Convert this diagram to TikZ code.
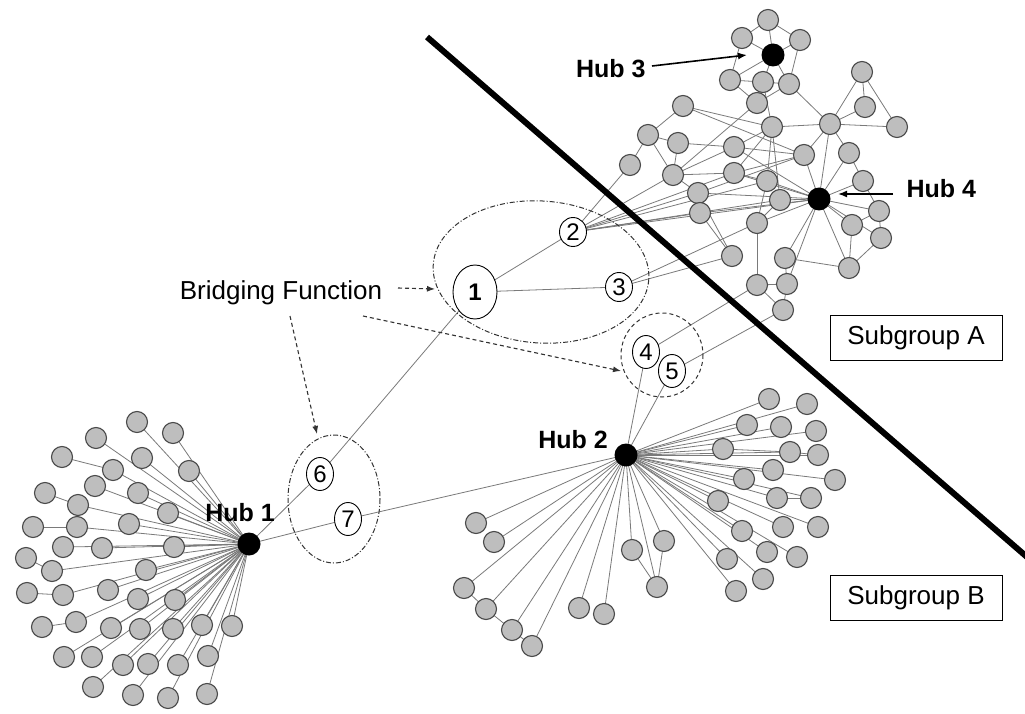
\documentclass[tikz,border=0pt]{standalone}
\usepackage{fontspec}
\setmainfont{Liberation Sans}
\usetikzlibrary{arrows.meta,shapes.geometric}
\pgfdeclarelayer{paper}
\pgfdeclarelayer{edges}
\pgfsetlayers{paper,edges,main}
\definecolor{nodegray}{HTML}{BEBEBE}
\definecolor{rimgray}{HTML}{4A4A4A}
\definecolor{linkgray}{HTML}{7A7A7A}
\definecolor{hintgray}{HTML}{333333}
\begin{document}
\begin{tikzpicture}[x=1pt,y=-1pt,
  gn/.style={circle,draw=rimgray,fill=nodegray,line width=1.1pt,minimum size=21pt,inner sep=0pt},
  hub/.style={circle,fill=black,minimum size=23pt,inner sep=0pt},
  num/.style={ellipse,draw=black,fill=white,line width=0.9pt,inner sep=0pt,
    minimum width=27pt,minimum height=33pt,font=\fontsize{24}{26}\selectfont},
  link/.style={draw=linkgray,line width=0.8pt},
  hubtext/.style={font=\fontsize{25}{28}\selectfont\bfseries},
  pointer/.style={draw=black,line width=1.6pt,-{Latex[length=9pt,width=7pt]}},
  hint/.style={draw=hintgray,line width=1.1pt,dash pattern=on 4pt off 3pt,-{Latex[length=8pt,width=6pt]}},
  group/.style={draw=hintgray,line width=1pt},
  subbox/.style={draw=black,line width=0.9pt,fill=white,minimum width=172pt,minimum height=45pt,
    inner sep=0pt,font=\fontsize{26}{28}\selectfont}
]
\begin{pgfonlayer}{paper}
  \fill[white] (0,0) rectangle (1025,714);
\end{pgfonlayer}
\useasboundingbox (0,0) rectangle (1025,714);

% ---------- hubs ----------
\node[hub] (h1) at (249,544) {};
\node[hub] (h2) at (626,455) {};
\node[hub] (h3) at (773,55) {};
\node[hub] (h4) at (819,199) {};

% ---------- leaves around hub 1 ----------
\foreach \n/\x/\y in {p1/137/422,p2/173/433,p3/96/438,p4/62/457,p5/142/458,p6/189/471,
  p7/113/470,p8/95/486,p9/138/493,p10/45/493,p11/78/505,p12/168/513,p13/129/524,
  p14/33/527,p15/77/527,p16/63/547,p17/102/548,p18/174/547,p19/26/558,p20/52/571,
  p21/146/570,p22/108/590,p23/27/593,p24/63/595,p25/138/599,p26/175/600,p27/42/627,
  p28/76/622,p29/111/628,p30/140/629,p31/173/629,p32/202/625,p33/232/626,p34/64/657,
  p35/92/657,p36/123/665,p37/148/664,p38/178/665,p39/208/656,p40/93/687,p41/133/695,
  p42/168/698,p43/207/694}
  \node[gn] (\n) at (\x,\y) {};

% ---------- leaves around hub 2 ----------
\foreach \n/\x/\y in {q1/769/399,q2/807/404,q3/747/425,q4/781/427,q5/816/431,q6/723/449,
  q7/790/452,q8/818/455,q9/773/470,q10/744/479,q11/835/480,q12/718/501,q13/777/498,
  q14/811/498,q15/742/531,q16/783/527,q17/818/527,q18/767/552,q19/797/557,q20/727/559,
  q21/763/579,q22/736/591,q23/476/523,q24/494/542,q25/632/550,q26/664/541,q27/657/587,
  q28/464/588,q29/486/609,q30/512/630,q31/532/646,q32/579/608,q33/604/614}
  \node[gn] (\n) at (\x,\y) {};

% ---------- subgroup A community ----------
\foreach \n/\x/\y in {a1/768/20,a2/742/38,a3/800/40,a4/730/80,a5/763/82,a6/789/84,
  a7/757/103,a8/683/106,a9/648/135,a10/678/143,a11/630/165,a12/673/175,a13/698/193,
  a14/700/213,a15/734/147,a16/734/173,a17/772/127,a18/830/124,a19/862/72,a20/865/107,
  a21/897/127,a22/804/155,a23/849/153,a24/767/181,a25/780/200,a26/863/181,a27/757/223,
  a28/852/225,a29/879/211,a30/881/238,a31/732/256,a32/785/258,a33/849/268,a34/757/285,
  a35/787/284,a36/783/310}
  \node[gn] (\n) at (\x,\y) {};

% ---------- bridging nodes ----------
\node[num,minimum width=44pt,minimum height=54pt,font=\fontsize{24}{26}\selectfont\bfseries] (n1) at (475,292) {1};
\node[num,minimum height=29pt] (n2) at (573,232) {2};
\node[num,minimum height=29pt] (n3) at (619,287) {3};
\node[num] (n4) at (646,352) {4};
\node[num] (n5) at (672,371) {5};
\node[num] (n6) at (320,474) {6};
\node[num] (n7) at (348,519) {7};

% ---------- links ----------
\begin{pgfonlayer}{edges}
  \foreach \n in {p1,p2,p3,p5,p6,p7,p8,p9,p11,p12,p13,p15,p16,p17,p18,p20,p21,p22,
    p24,p25,p26,p28,p29,p30,p31,p32,p33,p34,p35,p36,p37,p38,p39,p40,p41,p42,p43}
    \draw[link] (h1.center) -- (\n.center);
  \foreach \a/\b in {p10/p11,p14/p15,p19/p20,p23/p24,p27/p28,p4/p7}
    \draw[link] (\a.center) -- (\b.center);
  \foreach \n in {q1,q2,q3,q4,q5,q6,q7,q8,q9,q10,q11,q12,q13,q14,q15,q16,q17,q18,q19,
    q20,q21,q22,q23,q24,q25,q26,q27,q28,q29,q30,q31,q32,q33}
    \draw[link] (h2.center) -- (\n.center);
  \foreach \a/\b in {q25/q27,q26/q27,q28/q29,q29/q30,q30/q31,q6/q7,q7/q8,q13/q14}
    \draw[link] (\a.center) -- (\b.center);
  \foreach \a/\b in {h3/a1,h3/a2,h3/a3,h3/a4,h3/a5,h3/a6,a1/a2,a1/a3,a2/a4,a3/a6,
    a4/a5,a5/a6,a4/a7,a5/a7,a6/a7,a7/a12,a6/a18,a5/a17,
    a8/a9,a9/a10,a9/a11,a9/a12,a10/a12,a12/a16,a12/a13,a8/a17,a8/a22,
    a15/a17,a15/a22,a16/a22,a16/a24,a17/a18,a17/a24,a18/a19,a19/a21,a18/a21,a19/a20,a18/a20,
    a18/a22,a18/a23,a18/h4,a22/h4,a23/h4,a24/h4,a25/h4,a26/h4,a23/a26,a15/h4,a16/h4,
    a13/h4,a14/h4,h4/a27,h4/a28,h4/a29,h4/a30,h4/a32,h4/a33,h4/a35,a28/a29,a28/a33,
    a29/a30,a30/a33,a26/a29,a27/a34,a32/a33,a32/a35,a34/a35,a35/a36,a34/a36,a13/a31,
    a14/a31,a25/a27,a24/a27,a17/a25,a13/a22,a12/a15,a16/a17,a10/a15}
    \draw[link] (\a.center) -- (\b.center);
  \foreach \a/\b in {h1/n6,n6/n1,h1/n7,n7/h2,n1/n2,n1/n3,n2/a11,n2/a12,n2/a13,n2/a14,
    n2/a25,n2/h4,n2/a16,n2/a24,n3/a31,n3/a27,n4/h2,n5/h2,n4/a34,n5/a36}
    \draw[link] (\a.center) -- (\b.center);
\end{pgfonlayer}

% ---------- bridging groups ----------
\draw[group,dash pattern=on 5pt off 2pt on 1pt off 2pt,rotate around={-4:(541,272)}]
  (541,272) ellipse [x radius=108, y radius=71];
\draw[group,dash pattern=on 4pt off 3pt] (662,355) ellipse [x radius=41, y radius=42];
\draw[group,dash pattern=on 5pt off 2pt on 1pt off 2pt] (334,499) ellipse [x radius=46, y radius=64];

% ---------- dividing line ----------
\coordinate (cutA) at (427,37);
\coordinate (cutB) at (1027,557);
\draw[line width=6pt] (cutA) -- (cutB);

% ---------- labels ----------
\node[hubtext] (t1) at (240,513) {Hub 1};
\node[hubtext] (t2) at (573,440) {Hub 2};
\node[hubtext,anchor=east] (t3) at (649,69) {Hub 3};
\node[hubtext,anchor=west] (t4) at (903,189) {Hub 4};
\coordinate (t3tail) at (652,66);
\coordinate (t3tip) at (747,55);
\coordinate (t4tail) at (893,194);
\coordinate (t4tip) at (838,194);
\draw[pointer] (t3tail) -- (t3tip);
\draw[pointer] (t4tail) -- (t4tip);

\node[font=\fontsize{26}{28}\selectfont] (bf) at (281,293) {Bridging Function};
\draw[hint] (398,288) -- (435,289);
\draw[hint] (290,316) -- (317,434);
\draw[hint] (363,316) -- (621,371);

\node[subbox] (sa) at (916,338) {Subgroup A};
\node[subbox] (sb) at (916,598) {Subgroup B};
\end{tikzpicture}
\end{document}
